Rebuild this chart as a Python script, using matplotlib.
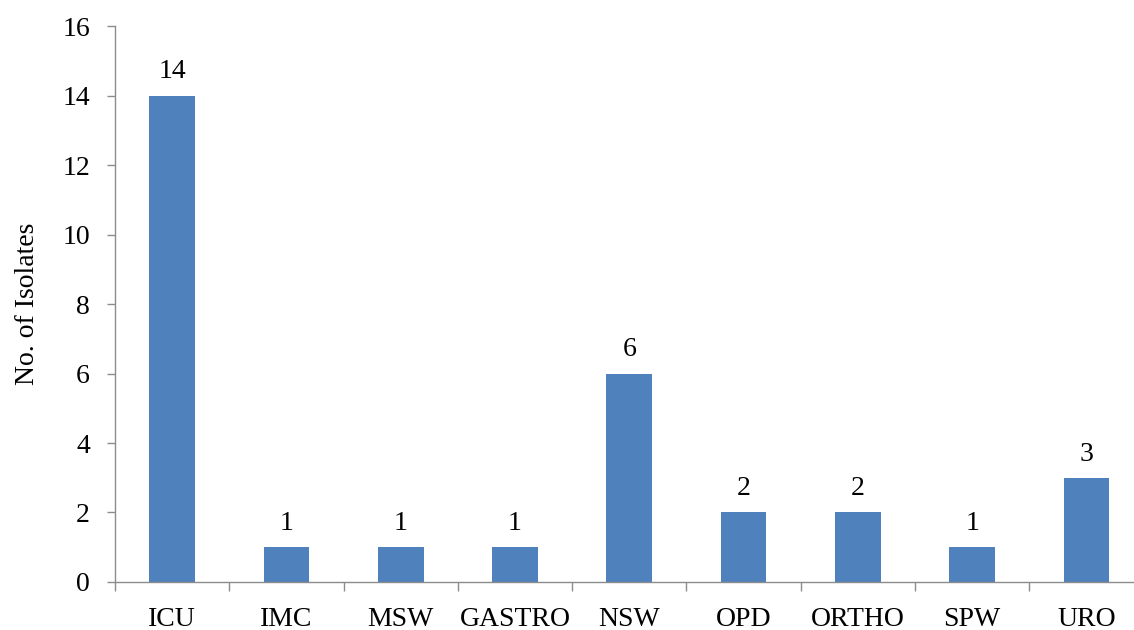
import matplotlib.pyplot as plt
import numpy as np

plt.rcParams['font.family'] = ['Liberation Serif', 'DejaVu Serif']

# wards and number of isolates from each
wards = ['ICU', 'IMC', 'MSW', 'GASTRO', 'NSW', 'OPD', 'ORTHO', 'SPW', 'URO']
isolates = [14, 1, 1, 1, 6, 2, 2, 1, 3]

bar_color = '#4F81BD'
axis_color = '#8C8C8C'

fig = plt.figure(figsize=(11.34, 6.3), dpi=100)
ax = fig.add_axes([0.1014, 0.0762, 0.907, 0.8825])

x = np.arange(len(wards))
bars = ax.bar(x, isolates, width=0.4, color=bar_color)

# value above each bar
for xi, v in zip(x, isolates):
    ax.annotate(str(v), (xi, v), xytext=(0, 8), textcoords='offset points',
                ha='center', va='bottom', fontsize=20)

ax.set_xlim(-0.5, len(wards) - 0.5)
ax.set_ylim(0, 16)
ax.set_yticks(range(0, 17, 2))

# category labels in the middle, tick marks on the boundaries
ax.set_xticks(x)
ax.set_xticklabels(wards, fontsize=20)
ax.set_xticks(np.arange(len(wards) + 1) - 0.5, minor=True)
ax.tick_params(axis='x', which='major', length=0, pad=18)
ax.tick_params(axis='x', which='minor', length=6.5, color=axis_color, width=1)
ax.tick_params(axis='y', length=6, color=axis_color, width=1, pad=12, labelsize=20)

ax.set_ylabel('No. of Isolates', fontsize=20, labelpad=16)

for side in ['top', 'right']:
    ax.spines[side].set_visible(False)
for side in ['left', 'bottom']:
    ax.spines[side].set_color(axis_color)
    ax.spines[side].set_linewidth(1)

plt.savefig('out.png', dpi=100)
